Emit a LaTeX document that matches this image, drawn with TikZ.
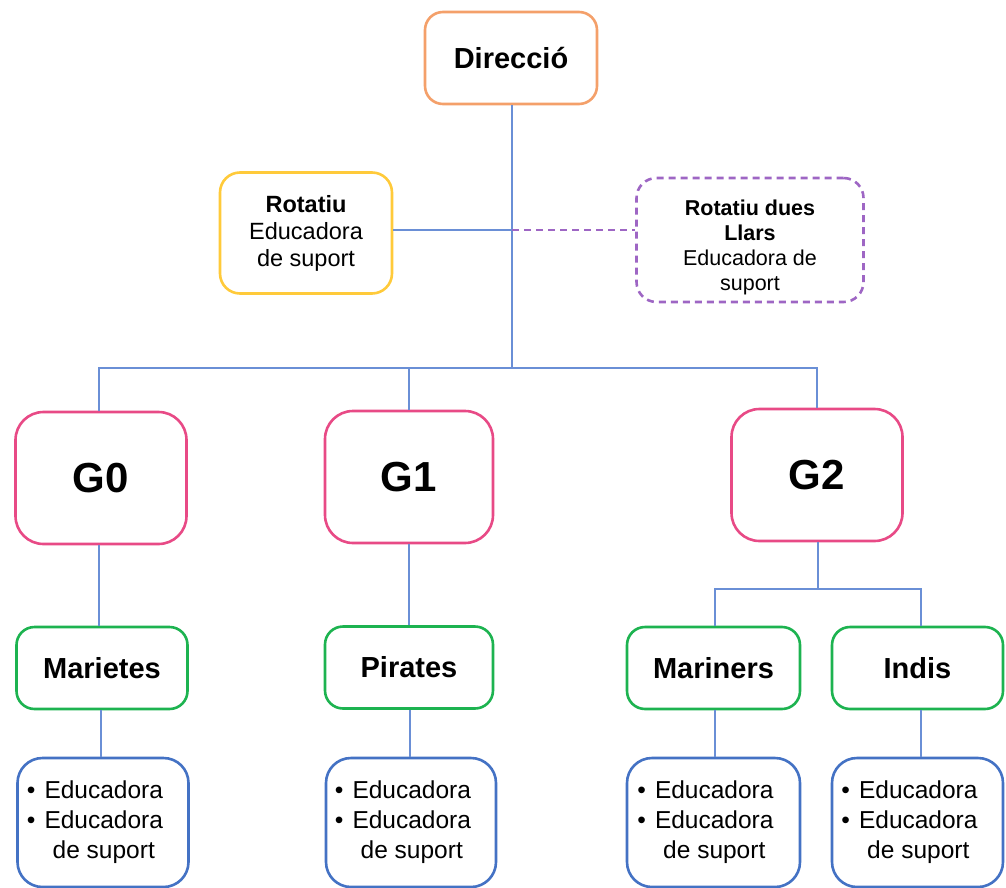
\documentclass[tikz,border=0pt]{standalone}
\usepackage{fontspec}
\setmainfont{Liberation Sans}
\definecolor{conn}{HTML}{6A8FD6}
\definecolor{cdir}{HTML}{F4A06A}
\definecolor{crot}{HTML}{FFCA3A}
\definecolor{cpur}{HTML}{9E66C4}
\definecolor{cpink}{HTML}{E84A86}
\definecolor{cgreen}{HTML}{1DB350}
\definecolor{cblue}{HTML}{4472C4}
\begin{document}
\begin{tikzpicture}[x=1pt,y=-1pt,
  box/.style={draw, line width=2.6pt, rounded corners=#1, fill=white, inner sep=0pt, align=center, text=black},
  box/.default=18pt,
  dirbox/.style={box=18pt, draw=cdir, minimum width=172pt, minimum height=92pt, font=\bfseries\fontsize{29}{34}\selectfont},
  rotbox/.style={box=20pt, draw=crot, minimum width=172pt, minimum height=121pt, font=\fontsize{23.5}{27}\selectfont},
  purbox/.style={box=20pt, draw=cpur, dashed, dash pattern=on 7pt off 5pt, minimum width=227pt, minimum height=124pt, font=\fontsize{21.5}{25}\selectfont},
  gbox/.style={box=28pt, draw=cpink, minimum width=171pt, minimum height=132pt, font=\bfseries\fontsize{42}{48}\selectfont},
  llbox/.style={box=18pt, draw=cgreen, minimum width=171pt, minimum height=82pt, font=\bfseries\fontsize{29}{34}\selectfont},
  edbox/.style={box=25pt, draw=cblue, minimum width=171pt, minimum height=129pt, font=\fontsize{24.5}{30}\selectfont},
  cline/.style={draw=conn, line width=1.8pt},
  pline/.style={draw=cpur, line width=1.8pt, dash pattern=on 7pt off 5pt}]
\useasboundingbox (0,0) rectangle (1006,888);
\newcommand{\edlist}{\begin{tabular}{@{}l@{\hspace{9pt}}c@{}}\textbullet & Educadora\\ \textbullet & Educadora\\ & de suport\end{tabular}\hspace{16pt}}

\node[dirbox] (dir) at (511,58) {Direcció};
\node[rotbox] (rot) at (306,233) {\textbf{Rotatiu}\\Educadora\\de suport};
\node[purbox] (rd) at (750,240) {\rule{0pt}{30pt}\textbf{Rotatiu dues}\\\textbf{Llars}\\Educadora de\\suport};

\node[gbox] (g0) at (101,478) {G0};
\node[gbox, minimum width=168pt] (g1) at (409,477) {G1};
\node[gbox] (g2) at (817,475) {G2};

\node[llbox] (mari) at (102,668) {Marietes};
\node[llbox, minimum width=168pt] (pir) at (409,667.5) {Pirates};
\node[llbox, minimum width=173pt] (mar) at (713.5,668) {Mariners};
\node[llbox] (ind) at (917.5,668) {Indis};

\node[edbox] (e0) at (103,822.5) {\edlist};
\node[edbox, minimum width=170pt] (e1) at (411,822.5) {\edlist};
\node[edbox, minimum width=173pt] (e2) at (713.5,822.5) {\edlist};
\node[edbox] (e3) at (917.5,822.5) {\edlist};

\coordinate (mid) at (512,230);
\coordinate (bus) at (512,368);
\coordinate (split) at (818,589);

\draw[cline] (dir.south -| bus) -- (bus);
\draw[cline] (rot.east |- mid) -- (mid);
\draw[pline] (mid) -- (rd.west |- mid);
\draw[cline] (g0.north -| 99,0) |- (bus) -| (g2.north);
\draw[cline] (g1.north) -- (g1.north |- bus);
\draw[cline] (g0.south -| 99,0) -- (mari.north -| 99,0);
\draw[cline] (g1.south) -- (pir.north);
\draw[cline] (g2.south -| split) -- (split);
\draw[cline] (mar.north -| 715,0) |- (split) -| (ind.north -| 921,0);
\draw[cline] (mari.south -| 101,0) -- (e0.north -| 101,0);
\draw[cline] (pir.south -| 410,0) -- (e1.north -| 410,0);
\draw[cline] (mar.south -| 715,0) -- (e2.north -| 715,0);
\draw[cline] (ind.south -| 921,0) -- (e3.north -| 921,0);
\end{tikzpicture}
\end{document}
